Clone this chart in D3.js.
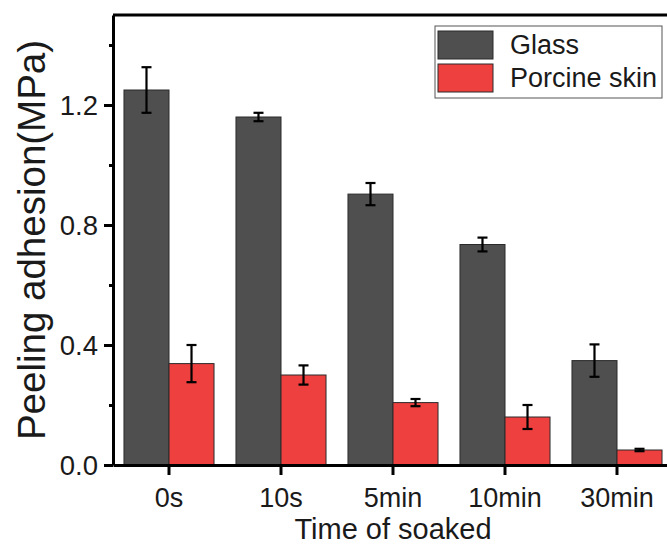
<!DOCTYPE html>
<html>
<head>
<meta charset="utf-8">
<script src="https://cdn.jsdelivr.net/npm/d3@7"></script>
<style>
  body { margin: 0; background: #fff; }
  svg text { font-family: Arial, "Liberation Sans", sans-serif; fill: #1a1a1a; }
</style>
</head>
<body>
<svg id="chart" width="667" height="548"></svg>
<script>
// time points and the two substrates
const categories = ['0s', '10s', '5min', '10min', '30min'];
const seriesNames = ['Glass', 'Porcine skin'];
const glassValues = [1.25, 1.16, 0.903, 0.735, 0.348];
const glassErrors = [0.076, 0.014, 0.037, 0.023, 0.054];
const skinValues = [0.338, 0.30, 0.208, 0.16, 0.05];
const skinErrors = [0.062, 0.032, 0.012, 0.04, 0.004];
const majorTicks = [0.0, 0.4, 0.8, 1.2];
const minorTicks = [0.2, 0.6, 1.0, 1.4];

const colors = { 'Glass': '#4f4f4f', 'Porcine skin': '#ef4040' };

let margin = { top: 15, right: 0, bottom: 83, left: 113 };
let svg = d3.select('#chart');

// the plot runs a bit past the right edge of the picture, like the original crop
let x0 = d3.scaleBand()
  .domain(categories)
  .range([margin.left, 673])
  .paddingInner(0)
  .paddingOuter(0);

let x1 = d3.scaleBand()
  .domain(seriesNames)
  .range([0, x0.bandwidth()])
  .paddingInner(0)
  .paddingOuter(0.244);

let y = d3.scaleLinear()
  .domain([0, 1.5])
  .range([465, margin.top]);

let rows = categories.map((c, i) => ({
  cat: c,
  bars: [
    { name: 'Glass', value: glassValues[i], err: glassErrors[i] },
    { name: 'Porcine skin', value: skinValues[i], err: skinErrors[i] }
  ]
}));

// bars
let groups = svg.append('g')
  .selectAll('g')
  .data(rows)
  .join('g')
  .attr('transform', d => 'translate(' + x0(d.cat) + ',0)');

groups.selectAll('rect')
  .data(d => d.bars)
  .join('rect')
  .attr('x', d => x1(d.name))
  .attr('y', d => y(d.value))
  .attr('width', x1.bandwidth())
  .attr('height', d => y(0) - y(d.value))
  .style('fill', d => colors[d.name])
  .style('stroke', '#2a2a2a')
  .style('stroke-width', 1);

// error bars
let errs = groups.selectAll('g.err')
  .data(d => d.bars)
  .join('g')
  .attr('class', 'err')
  .attr('transform', d => 'translate(' + (x1(d.name) + x1.bandwidth() / 2) + ',0)');

errs.append('line')
  .attr('y1', d => y(d.value + d.err))
  .attr('y2', d => y(d.value - d.err));
errs.append('line')
  .attr('x1', -5).attr('x2', 5)
  .attr('y1', d => y(d.value + d.err))
  .attr('y2', d => y(d.value + d.err));
errs.append('line')
  .attr('x1', -5).attr('x2', 5)
  .attr('y1', d => y(d.value - d.err))
  .attr('y2', d => y(d.value - d.err));
errs.selectAll('line')
  .style('stroke', '#000')
  .style('stroke-width', 2.2);

// top frame line
svg.append('line')
  .attr('x1', margin.left).attr('x2', 673)
  .attr('y1', y(1.5)).attr('y2', y(1.5))
  .style('stroke', '#000')
  .style('stroke-width', 3);

// Y axis, minor then major
svg.append('g')
  .attr('transform', 'translate(' + margin.left + ',0)')
  .call(d3.axisLeft(y).tickValues(minorTicks).tickSize(4).tickSizeOuter(0).tickFormat(''))
  .call(g => g.select('.domain').remove())
  .call(g => g.selectAll('line').style('stroke', '#000').style('stroke-width', 3));

svg.append('g')
  .attr('transform', 'translate(' + margin.left + ',0)')
  .call(d3.axisLeft(y).tickValues(majorTicks).tickSize(9).tickSizeOuter(0).tickPadding(6).tickFormat(d3.format('.1f')))
  .call(g => g.select('.domain').style('stroke', '#000').style('stroke-width', 3))
  .call(g => g.selectAll('line').style('stroke', '#000').style('stroke-width', 3))
  .call(g => g.selectAll('text').style('font-size', '27.5px').attr('dy', '0.36em').attr('fill', null));

// X axis
svg.append('g')
  .attr('transform', 'translate(0,' + y(0) + ')')
  .call(d3.axisBottom(x0).tickSize(10).tickSizeOuter(0).tickPadding(13))
  .call(g => g.select('.domain').style('stroke', '#000').style('stroke-width', 3))
  .call(g => g.selectAll('line').style('stroke', '#000').style('stroke-width', 3))
  .call(g => g.selectAll('text').style('font-size', '27px').attr('fill', null));

// axis titles
svg.append('text')
  .attr('x', (margin.left + 673) / 2)
  .attr('y', 539)
  .attr('text-anchor', 'middle')
  .style('font-size', '29px')
  .text('Time of soaked');

svg.append('text')
  .attr('transform', 'translate(45,' + ((y(0) + y(1.5)) / 2) + ') rotate(-90)')
  .attr('text-anchor', 'middle')
  .style('font-size', '38.5px')
  .text('Peeling adhesion(MPa)');

// legend
let legend = svg.append('g').attr('transform', 'translate(435,26)');
legend.append('rect')
  .attr('width', 227).attr('height', 72)
  .style('fill', '#fff')
  .style('stroke', '#555')
  .style('stroke-width', 1);

let items = legend.selectAll('g.item')
  .data(seriesNames)
  .join('g')
  .attr('class', 'item')
  .attr('transform', (d, i) => 'translate(3,' + (5 + i * 33) + ')');

items.append('rect')
  .attr('width', 55).attr('height', 28)
  .style('fill', d => colors[d])
  .style('stroke', '#2a2a2a')
  .style('stroke-width', 1);

items.append('text')
  .attr('x', 72).attr('y', 23)
  .style('font-size', '27px')
  .text(d => d);
</script>
</body>
</html>
